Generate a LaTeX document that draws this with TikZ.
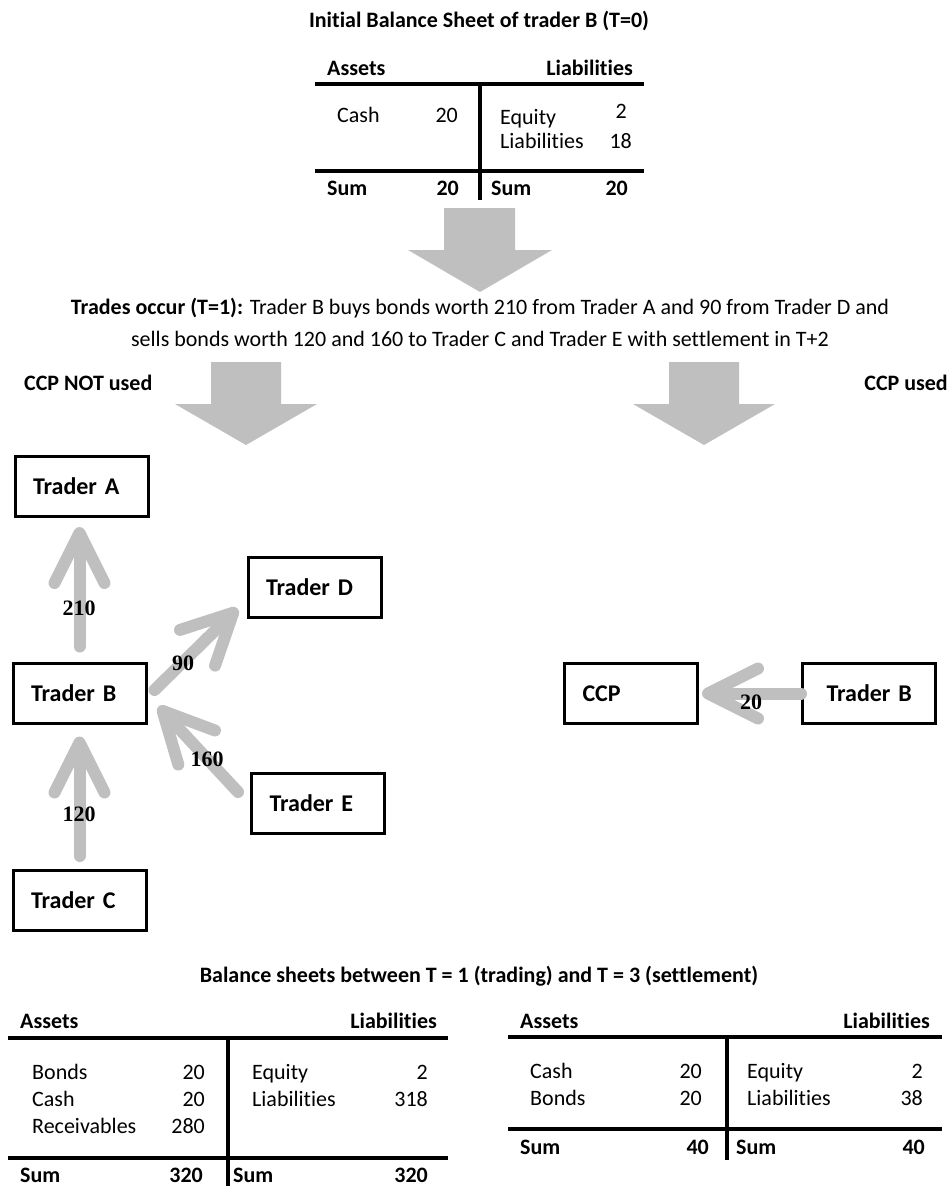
\documentclass[tikz,border=0pt]{standalone}
\usepackage{fontspec}
\setmainfont{Carlito}[Ligatures=NoCommon]
\newfontfamily\lblfont{Liberation Serif}
\usetikzlibrary{arrows.meta,calc}
\definecolor{arrgray}{RGB}{191,191,191}
\begin{document}
\begin{tikzpicture}[x=1pt,y=-1pt,
  every node/.style={inner sep=0pt},
  txt/.style={text height=14pt,text depth=0pt,font=\fontsize{22}{26}\selectfont},
  btxt/.style={text height=14pt,text depth=0pt,font=\fontsize{22}{26}\selectfont\bfseries},
  rule/.style={line width=4.5pt},
  box/.style={draw,line width=3pt,minimum height=60pt,text width=97pt,inner xsep=18pt,align=left,text height=16pt,text depth=0pt,font=\fontsize{24}{28}\selectfont\bfseries},
  conn/.style={draw=arrgray,line width=12pt,line cap=round,-{Straight Barb[length=50pt,width=50pt,round]}},
  lbl/.style={text height=14pt,text depth=0pt,font=\fontsize{22}{26}\selectfont\lblfont\bfseries},
  bigarrow/.style={fill=arrgray}
]
\useasboundingbox (0,0) rectangle (952,1186);

% ---------- Title and initial balance sheet ----------
\node[btxt] (title1) at (479,20) {Initial Balance Sheet of trader B (T=0)};
\draw[rule] (315,84) -- (644,84);
\draw[rule] (315,171) -- (644,171);
\draw[rule] (480,84) -- (480,200);
\node[btxt,anchor=west] (ta) at (327,68) {Assets};
\node[btxt,anchor=east] (tl) at (633,68) {Liabilities};
\node[txt,anchor=west] (tcash) at (337,115) {Cash};
\node[txt,anchor=east] (tcashv) at (458,115) {20};
\node[txt,anchor=west] (teq) at (500,117) {Equity};
\node[txt,anchor=east] (teqv) at (627,111) {2};
\node[txt,anchor=west] (tli) at (500,141) {Liabilities};
\node[txt,anchor=east] (tliv) at (632,141) {18};
\node[btxt,anchor=west] (tsum1) at (327,188) {Sum};
\node[btxt,anchor=east] (tsum1v) at (459,188) {20};
\node[btxt,anchor=west] (tsum2) at (491,188) {Sum};
\node[btxt,anchor=east] (tsum2v) at (628,188) {20};

% ---------- big arrows ----------
\fill[bigarrow] (444,208) -- (515,208) -- (515,250) -- (552,250) -- (480,292) -- (408,250) -- (444,250) -- cycle;
\fill[bigarrow] (211,362) -- (281,362) -- (281,404) -- (317,404) -- (246,445) -- (175,404) -- (211,404) -- cycle;
\fill[bigarrow] (669,362) -- (739,362) -- (739,404) -- (775,404) -- (704,445) -- (633,404) -- (669,404) -- cycle;

% ---------- paragraph ----------
\node[txt] (para1) at (480,307) {\textbf{Trades occur (T=1):} Trader B buys bonds worth 210 from Trader A and 90 from Trader D and};
\node[txt] (para2) at (480,339) {sells bonds worth 120 and 160 to Trader C and Trader E with settlement in T+2};
\node[btxt,anchor=west] (notused) at (24,383) {CCP NOT used};
\node[btxt,anchor=east] (used) at (948,383) {CCP used};

% ---------- left diagram ----------
\node[box] (A) at (81.5,486.5) {Trader A};
\node[box] (B) at (79.5,693) {Trader B};
\node[box] (C) at (79.5,900.5) {Trader C};
\node[box] (D) at (314.5,587) {Trader D};
\node[box] (E) at (318,803.5) {Trader E};

\draw[conn] ($(B.north)+(0,-15)$) -- ($(A.south -| B.north)+(0,9)$);
\draw[conn] ($(C.north)+(0,-13)$) -- ($(B.south)+(0,12)$);
\draw[conn] ($(B.east)+(7,-3)$) -- ($(D.south west)+(-9,-10)$);
\draw[conn] ($(E.west)+(-12,-11.5)$) -- ($(B.south east)+(11,-18)$);

\node[lbl] (l210) at (79,608) {210};
\node[lbl] (l120) at (79,814) {120};
\node[lbl] (l90) at (183,663) {90};
\node[lbl] (l160) at (207,759) {160};

% ---------- right diagram ----------
\node[box] (CCP) at (631,693.5) {CCP};
\node[box,text width=101pt,inner xsep=16pt,xshift=0pt] (B2) at (869,693.5) {\hspace*{8pt}Trader B};
\draw[conn] (B2.west) -- ($(CCP.east)+(3,0)$);
\node[lbl] (l20) at (751,702) {20};

% ---------- bottom balance sheets ----------
\node[btxt] (title2) at (479,975) {Balance sheets between T = 1 (trading) and T = 3 (settlement)};

% left sheet
\draw[rule] (8,1038) -- (448,1038);
\draw[rule] (8,1158) -- (448,1158);
\draw[rule] (228,1038) -- (228,1186);
\node[btxt,anchor=west] (la) at (20,1021) {Assets};
\node[btxt,anchor=east] (ll) at (437,1021) {Liabilities};
\node[txt,anchor=west] (lb1) at (32,1072) {Bonds};
\node[txt,anchor=east] (lb1v) at (205,1072) {20};
\node[txt,anchor=west] (lb2) at (32,1099) {Cash};
\node[txt,anchor=east] (lb2v) at (205,1099) {20};
\node[txt,anchor=west] (lb3) at (32,1126) {Receivables};
\node[txt,anchor=east] (lb3v) at (205,1126) {280};
\node[txt,anchor=west] (lr1) at (252,1072) {Equity};
\node[txt,anchor=east] (lr1v) at (428,1072) {2};
\node[txt,anchor=west] (lr2) at (252,1099) {Liabilities};
\node[txt,anchor=east] (lr2v) at (428,1099) {318};
\node[btxt,anchor=west] (ls1) at (20,1175) {Sum};
\node[btxt,anchor=east] (ls1v) at (203,1175) {320};
\node[btxt,anchor=west] (ls2) at (233,1175) {Sum};
\node[btxt,anchor=east] (ls2v) at (428,1175) {320};

% right sheet
\draw[rule] (508,1037) -- (942,1037);
\draw[rule] (508,1129) -- (942,1129);
\draw[rule] (727,1037) -- (727,1160);
\node[btxt,anchor=west] (ra) at (520,1021) {Assets};
\node[btxt,anchor=east] (rl) at (930,1021) {Liabilities};
\node[txt,anchor=west] (rb1) at (530,1071) {Cash};
\node[txt,anchor=east] (rb1v) at (702,1071) {20};
\node[txt,anchor=west] (rb2) at (530,1098) {Bonds};
\node[txt,anchor=east] (rb2v) at (702,1098) {20};
\node[txt,anchor=west] (rr1) at (747,1071) {Equity};
\node[txt,anchor=east] (rr1v) at (923,1071) {2};
\node[txt,anchor=west] (rr2) at (747,1098) {Liabilities};
\node[txt,anchor=east] (rr2v) at (923,1098) {38};
\node[btxt,anchor=west] (rs1) at (520,1147) {Sum};
\node[btxt,anchor=east] (rs1v) at (709,1147) {40};
\node[btxt,anchor=west] (rs2) at (736,1147) {Sum};
\node[btxt,anchor=east] (rs2v) at (925,1147) {40};
\end{tikzpicture}
\end{document}
